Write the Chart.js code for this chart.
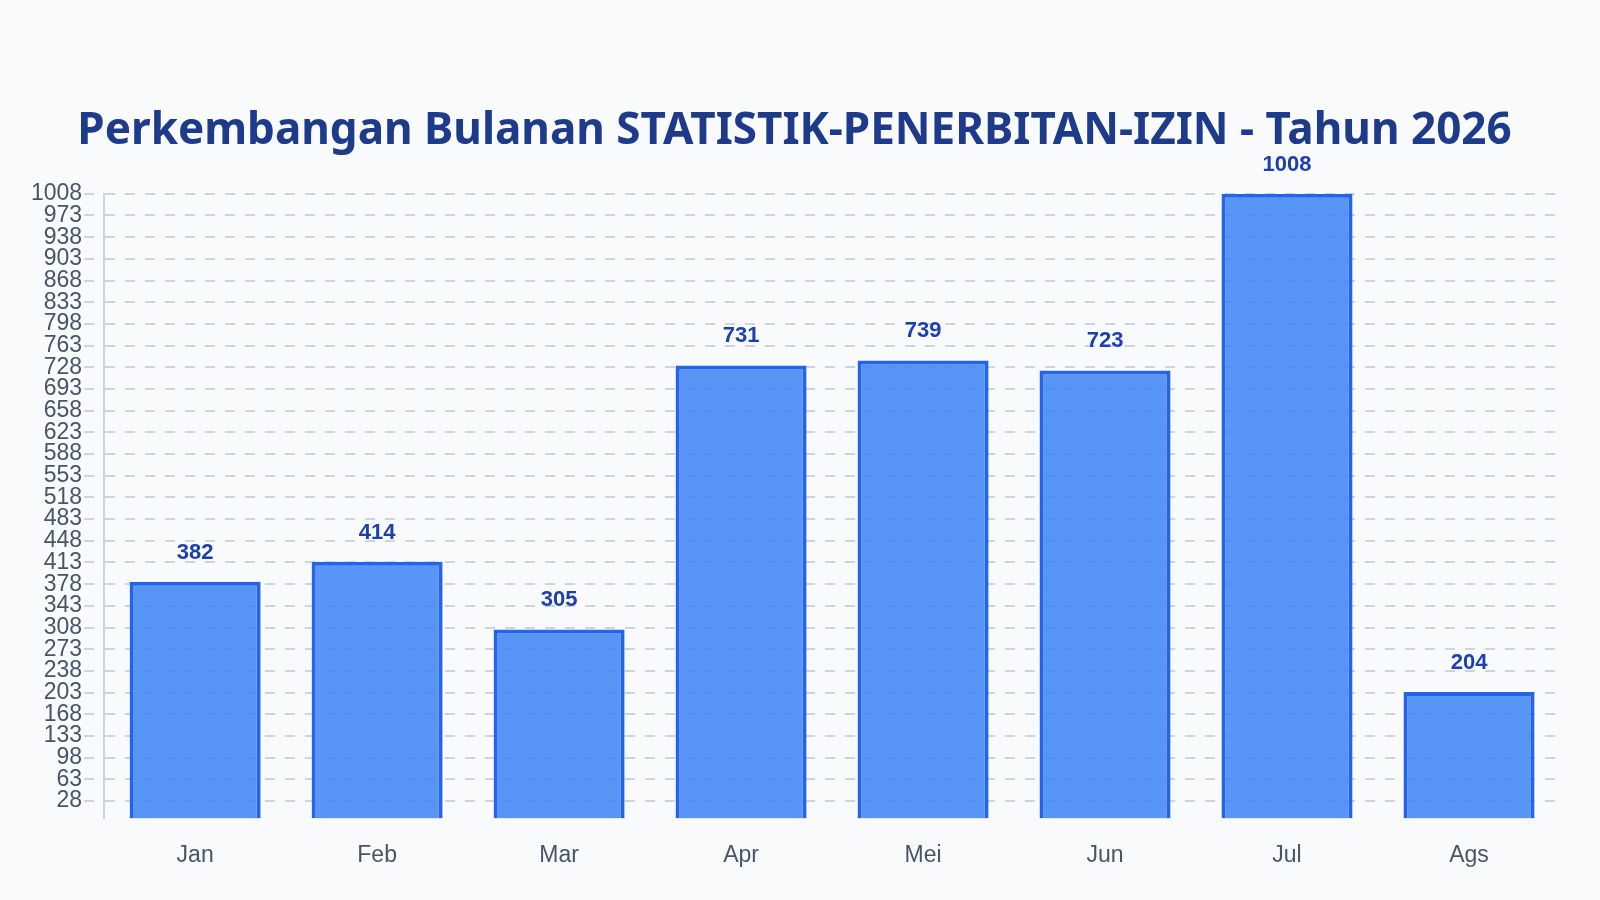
<!DOCTYPE html>
<html>
<head>
<meta charset="utf-8">
<script src="https://cdn.jsdelivr.net/npm/chart.js@4.4.1/dist/chart.umd.min.js"></script>
<style>
  html, body { margin: 0; padding: 0; background: #f8fafc; }
  #wrap { width: 1600px; height: 900px; position: relative; }
</style>
</head>
<body>
<div id="wrap"><canvas id="c" width="1600" height="900"></canvas></div>
<script>
const titleText = 'Perkembangan Bulanan STATISTIK-PENERBITAN-IZIN - Tahun 2026';
const categories = ['Jan', 'Feb', 'Mar', 'Apr', 'Mei', 'Jun', 'Jul', 'Ags'];
const values = [382, 414, 305, 731, 739, 723, 1008, 204];
const yTickValues = [28, 63, 98, 133, 168, 203, 238, 273, 308, 343, 378, 413, 448, 483, 518, 553, 588, 623, 658, 693, 728, 763, 798, 833, 868, 903, 938, 973, 1008];
const yMin = 0;
const yMax = 1008;

const valueLabels = {
  id: 'valueLabels',
  afterDatasetsDraw(chart) {
    const ctx = chart.ctx;
    const meta = chart.getDatasetMeta(0);
    ctx.save();
    ctx.font = 'bold 22px "Liberation Sans", Arial, sans-serif';
    ctx.fillStyle = '#1e40af';
    ctx.textAlign = 'center';
    ctx.textBaseline = 'alphabetic';
    meta.data.forEach((bar, i) => {
      ctx.fillText(String(values[i]), bar.x, bar.y - 23);
    });
    ctx.restore();
  }
};

Chart.defaults.font.family = '"Liberation Sans", Arial, sans-serif';

new Chart(document.getElementById('c'), {
  type: 'bar',
  data: {
    labels: categories,
    datasets: [{
      data: values,
      backgroundColor: 'rgba(59,130,246,0.85)',
      borderColor: '#2563eb',
      borderWidth: 4,
      barPercentage: 0.8,
      categoryPercentage: 0.9
    }]
  },
  options: {
    responsive: false,
    animation: false,
    devicePixelRatio: 1,
    layout: { padding: { left: 29, right: 40, top: 105, bottom: 16 } },
    plugins: {
      legend: { display: false },
      tooltip: { enabled: false },
      title: {
        display: true,
        text: titleText,
        color: '#1e3a8a',
        font: { family: '"Noto Sans", "Open Sans", sans-serif', size: 44, weight: 'bold' },
        padding: { top: 0, bottom: 36 }
      }
    },
    scales: {
      x: {
        grid: { display: false },
        border: { display: false },
        ticks: { color: '#475569', font: { size: 23 }, padding: 15 }
      },
      y: {
        min: yMin,
        max: yMax,
        afterBuildTicks(axis) {
          axis.ticks = yTickValues.map(v => ({ value: v }));
        },
        grid: {
          color: '#cbd5e1',
          lineWidth: 2,
          tickLength: 20,
          tickColor: '#cbd5e1',
          tickBorderDash: [10, 10]
        },
        border: { display: true, color: '#cbd5e1', width: 2, dash: [10, 10] },
        ticks: {
          color: '#475569',
          font: { size: 23 },
          padding: 2,
          autoSkip: false,
          callback: (v) => String(v)
        }
      }
    }
  },
  plugins: [valueLabels]
});
</script>
</body>
</html>
